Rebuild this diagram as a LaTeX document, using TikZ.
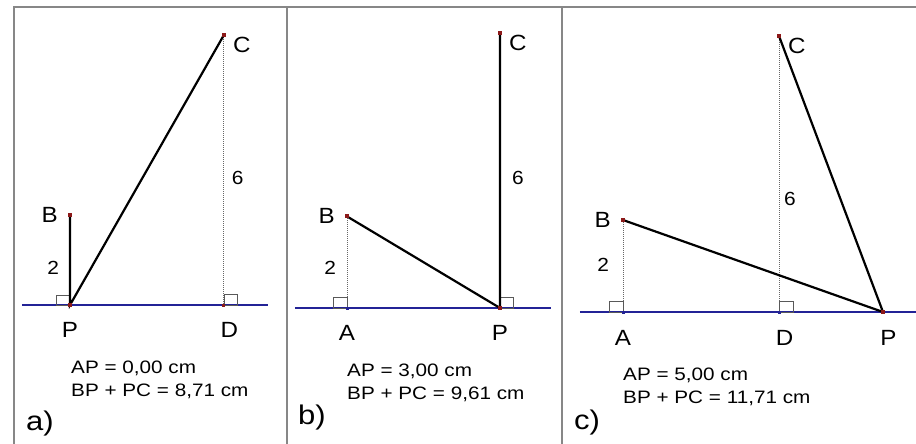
\documentclass[tikz,border=0pt]{standalone}
\usepackage{fontspec}
\setmainfont{Liberation Sans}
\usetikzlibrary{positioning}
\definecolor{lineblue}{RGB}{35,35,150}
\definecolor{ptred}{RGB}{140,25,25}
\definecolor{framegray}{RGB}{135,135,135}

\begin{document}
\begin{tikzpicture}[x=1pt, y=-1pt,
    lbl/.style={inner sep=0pt, font=\fontsize{22}{24}\selectfont, xscale=1.1},
    num/.style={inner sep=0pt, font=\fontsize{19}{21}\selectfont, xscale=1.1},
    paneltag/.style={inner sep=0pt, font=\fontsize{27}{30}\selectfont, xscale=1.15},
    infotext/.style={inner sep=0pt, align=left, font=\fontsize{18}{23}\selectfont, xscale=1.15},
    blueline/.style={draw=lineblue, line width=2pt},
    seg/.style={line width=2.2pt, line cap=round},
    aux/.style={draw=gray!80!black, line width=0.9pt, dash pattern=on 1pt off 1pt},
    rangle/.style={draw=gray!70!black, line width=0.8pt},
    ptmark/.style={rectangle, fill=ptred, inner sep=0pt, minimum size=4pt},
    frame/.style={draw=framegray, line width=1.2pt}]
    \useasboundingbox (0,0) rectangle (916,444);

    % Ramki
    \draw[frame] (14,444) -- (14,7) -- (916,7);
    \draw[frame] (287,7) -- (287,444);
    \draw[frame] (562,7) -- (562,444);

    % a)
    \begin{scope}[shift={(70,305)}, x=51.3pt, y=45pt]
        \coordinate (aP) at (0,0);
        \coordinate (aB) at (0,2);
        \coordinate (aC) at (3,6);
        \coordinate (aD) at (3,0);
        \coordinate (aL) at (-0.94,0);
        \coordinate (aR) at (3.86,0);

        \draw[blueline] (aL) -- (aR);
        \draw[aux] (aC) -- (aD);
        \draw[rangle] (aP) rectangle ++(-0.26,0.22);
        \draw[rangle] (aD) rectangle ++(0.27,0.24);
        \draw[seg] (aB) -- (aP) -- (aC);

        \node[ptmark] (aBm) at (aB) {};
        \node[ptmark] (aCm) at (aC) {};
        \node[ptmark] (aPm) at (aP) {};
        \node[ptmark, minimum size=3pt] (aDm) at (aD) {};

        \node[lbl, left=12pt of aB] (aBl) {B};
        \node[lbl, below right=2pt and 9pt of aC] (aCl) {C};
        \node[lbl, below=17pt of aP] (aPl) {P};
        \node[lbl, below=17pt of aD, xshift=5pt] (aDl) {D};
        \node[num] (a6) at (3.27,2.82) {6};
        \node[num] (a2) at (-0.33,0.82) {2};
        \node[infotext, below right=56pt and 1pt of aP] (ainfo) {AP = 0,00 cm\\BP + PC = 8,71 cm};
    \end{scope}
    \node[paneltag] (taga) at (40,424) {a)};

    % b)
    \begin{scope}[shift={(347,308)}, x=51pt, y=45.8pt]
        \coordinate (bA) at (0,0);
        \coordinate (bP) at (3,0);
        \coordinate (bB) at (0,2);
        \coordinate (bC) at (3,6);
        \coordinate (bL) at (-1.02,0);
        \coordinate (bR) at (4.0,0);

        \draw[blueline] (bL) -- (bR);
        \draw[aux] (bB) -- (bA);
        \draw[rangle] (bA) rectangle ++(-0.27,0.24);
        \draw[rangle] (bP) rectangle ++(0.27,0.24);
        \draw[seg] (bB) -- (bP) -- (bC);

        \node[ptmark] (bBm) at (bB) {};
        \node[ptmark] (bCm) at (bC) {};
        \node[ptmark] (bPm) at (bP) {};
        \node[ptmark, minimum size=3pt, fill=lineblue] (bAm) at (bA) {};

        \node[lbl, left=12pt of bB] (bBl) {B};
        \node[lbl, below right=2pt and 9pt of bC] (bCl) {C};
        \node[lbl, below=17pt of bA] (bAl) {A};
        \node[lbl, below=17pt of bP] (bPl) {P};
        \node[num] (b6) at (3.35,2.84) {6};
        \node[num] (b2) at (-0.33,0.87) {2};
        \node[infotext, below right=56pt and 0pt of bA] (binfo) {AP = 3,00 cm\\BP + PC = 9,61 cm};
    \end{scope}
    \node[paneltag] (tagb) at (312,418) {b)};

    % c)
    \begin{scope}[shift={(623,312)}, x=52pt, y=46pt]
        \coordinate (cA) at (0,0);
        \coordinate (cD) at (3,0);
        \coordinate (cP) at (5,0);
        \coordinate (cB) at (0,2);
        \coordinate (cC) at (3,6);
        \coordinate (cL) at (-0.83,0);
        \coordinate (cR) at (5.7,0);

        \draw[blueline] (cL) -- (cR);
        \draw[aux] (cB) -- (cA);
        \draw[aux] (cC) -- (cD);
        \draw[rangle] (cA) rectangle ++(-0.27,0.24);
        \draw[rangle] (cD) rectangle ++(0.27,0.24);
        \draw[seg] (cB) -- (cP) -- (cC);

        \node[ptmark] (cBm) at (cB) {};
        \node[ptmark] (cCm) at (cC) {};
        \node[ptmark] (cPm) at (cP) {};
        \node[ptmark, minimum size=3pt, fill=lineblue] (cAm) at (cA) {};
        \node[ptmark, minimum size=3pt, fill=lineblue] (cDm) at (cD) {};

        \node[lbl, left=12pt of cB] (cBl) {B};
        \node[lbl, below right=2pt and 9pt of cC] (cCl) {C};
        \node[lbl, below=18pt of cA] (cAl) {A};
        \node[lbl, below=18pt of cD, xshift=5pt] (cDl) {D};
        \node[lbl, below=18pt of cP, xshift=5pt] (cPl) {P};
        \node[num] (c6) at (3.21,2.46) {6};
        \node[num] (c2) at (-0.38,1.02) {2};
        \node[infotext, below right=56pt and 0pt of cA] (cinfo) {AP = 5,00 cm\\BP + PC = 11,71 cm};
    \end{scope}
    \node[paneltag] (tagc) at (587,423) {c)};
\end{tikzpicture}
\end{document}
